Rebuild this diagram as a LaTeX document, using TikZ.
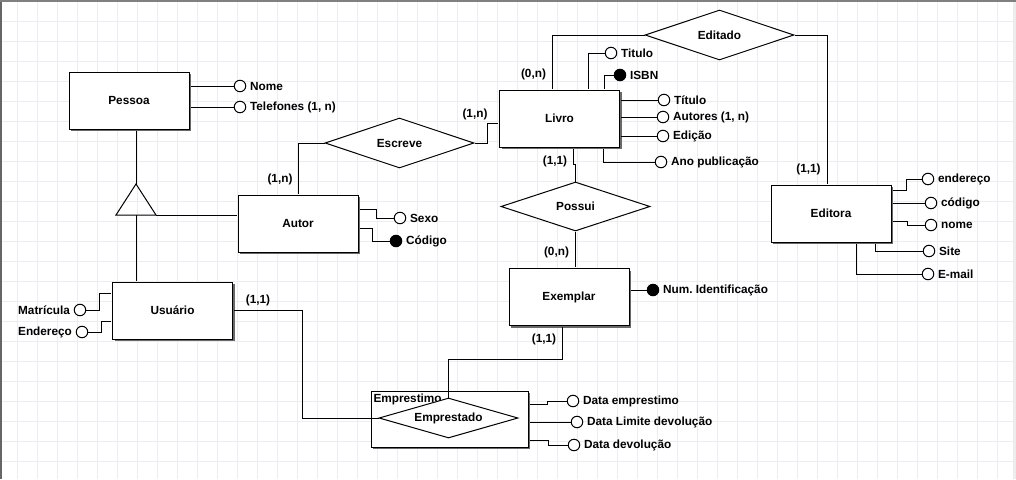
\documentclass[tikz,border=0pt]{standalone}
\usepackage{fontspec}
\setmainfont{Liberation Sans}
\usetikzlibrary{positioning,calc,shapes.geometric,shadows}
\definecolor{gridc}{RGB}{234,238,243}
\definecolor{shadowc}{RGB}{105,105,105}

\begin{document}
\begin{tikzpicture}[x=1pt, y=-1pt, line width=1pt,
  every node/.style={font=\bfseries\fontsize{11.8}{14}\selectfont},
  entity/.style={draw, fill=white, minimum width=120pt, minimum height=57pt, outer sep=1.5pt,
    drop shadow={shadow xshift=2pt, shadow yshift=-2pt, fill=shadowc, opacity=1}},
  rel/.style={diamond, draw, fill=white, aspect=3, minimum width=149pt, minimum height=50pt, inner sep=0pt},
  attr/.style={circle, draw, fill=white, minimum size=11.5pt, inner sep=0pt},
  keyattr/.style={attr, fill=black}]
  \useasboundingbox (0,0) rectangle (1016,479);
  \fill[white] (0,0) rectangle (1016,479);
  \foreach \gx in {17,37,...,1013} \draw[gridc] (\gx,0) -- (\gx,479);
  \foreach \gy in {21,41,...,461} \draw[gridc] (0,\gy) -- (1016,\gy);
  \fill[black!60] (0,0) rectangle (2,479);
  \fill[black!50] (0,0) rectangle (1016,1.5);
  \fill[black!7] (1013,1.5) rectangle (1016,479);

  \node[entity] (pessoa) at (129,100.5) {Pessoa};
  \node[entity] (autor) at (298,223.5) {Autor};
  \node[entity] (usuario) at (172.5,310.5) {Usuário};
  \node[entity] (livro) at (559.5,118.5) {Livro};
  \node[entity] (exemplar) at (569,297) {Exemplar};
  \node[entity] (editora) at (831,213.5) {Editora};
  \node[entity, minimum width=157pt, minimum height=56pt] (emprestimo) at (449.5,419) {};
  \node[anchor=base west, inner sep=0.5pt] (emplabel) at ($(emprestimo.north west)+(3,13)$) {Emprestimo};

  \node[rel] (escreve) at (399.5,143) {Escreve};
  \node[rel] (editado) at (719.5,35) {Editado};
  \node[rel, minimum height=49pt] (possui) at (575.5,206.5) {Possui};
  \node[rel, aspect=3.5, minimum width=139pt, minimum height=40pt] (emprestado) at (448.5,418) {Emprestado};

  \coordinate (isa) at (136,184);
  \coordinate (isal) at (116,215);
  \coordinate (isar) at (156,215);
  \coordinate (isab) at (136,215);
  \draw (isa) -- (isal) -- (isar) -- cycle;

  \node[attr, label=right:Nome] (nome) at (240,86) {};
  \node[attr, label=right:{Telefones (1, n)}] (tel) at (240,107) {};
  \node[attr, label=right:Titulo] (titulo1) at (611,53) {};
  \node[keyattr, label=right:ISBN] (isbn) at (620,75) {};
  \node[attr, label=right:Título] (titulo2) at (664,100) {};
  \node[attr, label=right:{Autores (1, n)}] (autores) at (663,117) {};
  \node[attr, label=right:Edição] (edicao) at (663,136) {};
  \node[attr, label=right:{Ano publicação}] (ano) at (661,162) {};
  \node[attr, label=right:Sexo] (sexo) at (400,218) {};
  \node[keyattr, label=right:Código] (codigo) at (396,241) {};
  \node[attr, label=left:Matrícula] (matricula) at (80,310) {};
  \node[attr, label=left:Endereço] (endereco) at (82,332) {};
  \node[keyattr, label=right:{Num.\ Identificação}] (numid) at (653,290) {};
  \node[attr, label=right:endereço] (enderecoed) at (928,179) {};
  \node[attr, label=right:código] (codigoed) at (931,203) {};
  \node[attr, label=right:nome] (nomeed) at (931,225) {};
  \node[attr, label=right:Site] (site) at (929,251) {};
  \node[attr, label=right:E-mail] (email) at (928,274) {};
  \node[attr, label=right:{Data emprestimo}] (dataemp) at (573,401) {};
  \node[attr, label=right:{Data Limite devolução}] (datalim) at (577,422) {};
  \node[attr, label=right:{Data devolução}] (datadev) at (574,445) {};

  \node (card1) at (280,179) {(1,n)};
  \node (card2) at (475,114) {(1,n)};
  \node (card3) at (533.5,74) {(0,n)};
  \node (card4) at (808.5,169) {(1,1)};
  \node (card5) at (555,161) {(1,1)};
  \node (card6) at (556.5,252) {(0,n)};
  \node (card7) at (544,339) {(1,1)};
  \node (card8) at (258,300) {(1,1)};

  \draw (isa |- pessoa.south) -- (isa);
  \draw (isar) -- (autor.west |- isar);
  \draw (isab) -- (isab |- usuario.north);
  \draw (autor.north) |- (escreve.west);
  \draw (escreve.east) -- ++(13,0) |- ($(livro.west)+(0,4.5)$);
  \draw ($(livro.north)+(-7.5,0)$) |- (editado.west);
  \draw (editado.east) -| ($(editora.north)+(-4,0)$);
  \draw ($(livro.south)+(13.5,0)$) -- ++(0,16) -| (possui.north);
  \draw (possui.south) -- (possui.south |- exemplar.north);
  \draw ($(exemplar.south)+(-7,0)$) -- ++(0,32) -| (emprestado.north);
  \draw (usuario.east) -- ++(68,0) |- (emprestado.west);

  \draw (pessoa.east |- nome) -- (nome);
  \draw (pessoa.east |- tel) -- (tel);
  \draw ($(livro.north)+(28.5,0)$) |- (titulo1);
  \draw ($(livro.north)+(44.5,0)$) |- (isbn);
  \draw (livro.east |- titulo2) -- (titulo2);
  \draw (livro.east |- autores) -- (autores);
  \draw (livro.east |- edicao) -- (edicao);
  \draw ($(livro.south)+(43.5,0)$) |- (ano);
  \draw ($(autor.east)+(0,-14.5)$) -- ++(17,0) |- (sexo);
  \draw ($(autor.east)+(0,4.5)$) -- ++(13,0) |- (codigo);
  \draw ($(usuario.west)+(0,-17.5)$) -- ++(-12,0) |- (matricula);
  \draw ($(usuario.west)+(0,10.5)$) -- ++(-10,0) |- (endereco);
  \draw (exemplar.east |- numid) -- (numid);
  \draw ($(editora.east)+(0,-23.5)$) -- ++(14,0) |- (enderecoed);
  \draw (editora.east |- codigoed) -- (codigoed);
  \draw ($(editora.east)+(0,7.5)$) -- ++(15,0) |- (nomeed);
  \draw ($(editora.south)+(44,0)$) |- (site);
  \draw ($(editora.south)+(25,0)$) |- (email);
  \draw ($(emprestimo.east)+(0,-15)$) -- ++(18,0) |- (dataemp);
  \draw (emprestimo.east |- datalim) -- (datalim);
  \draw ($(emprestimo.east)+(0,21)$) -- ++(19,0) |- (datadev);
\end{tikzpicture}
\end{document}
